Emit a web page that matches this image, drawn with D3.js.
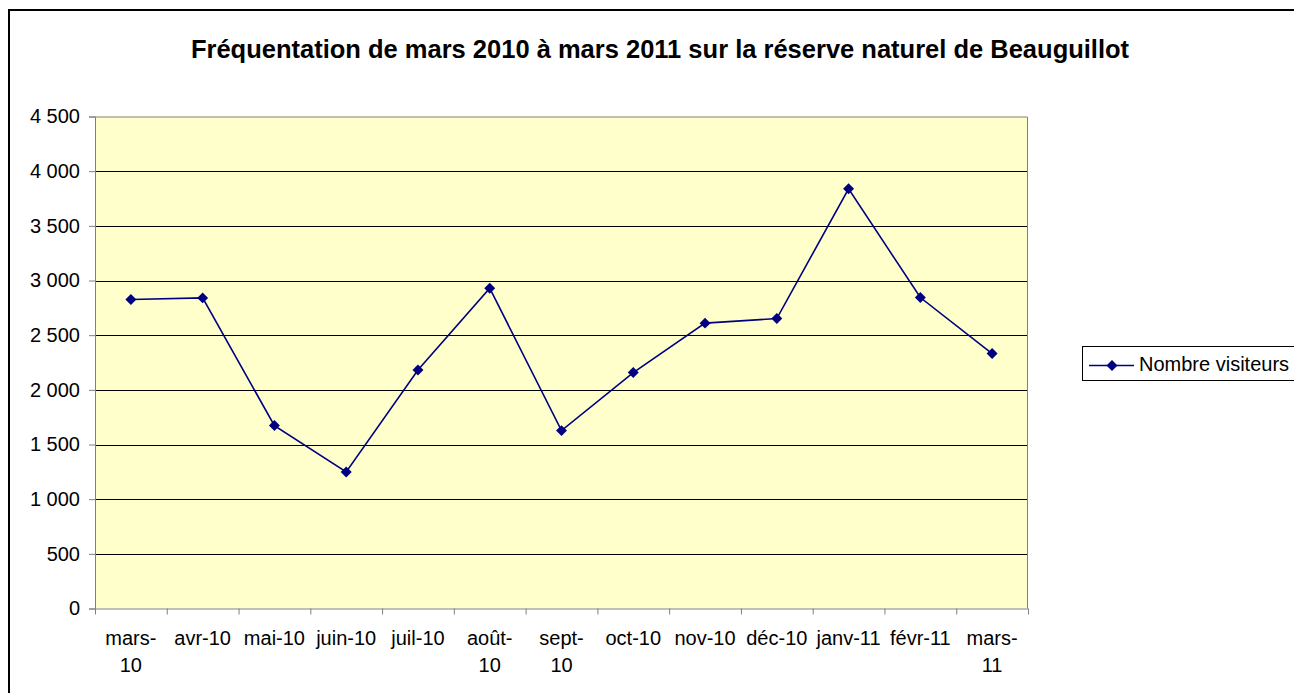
<!DOCTYPE html>
<html lang="fr">
<head>
<meta charset="utf-8">
<script src="https://cdn.jsdelivr.net/npm/d3@7"></script>
<style>
  html, body { margin: 0; padding: 0; background: #fff; }
  svg { display: block; font-family: "Liberation Sans", Arial, sans-serif; }
</style>
</head>
<body>
<svg id="chart" width="1294" height="693"></svg>
<script>
// Monthly visitor counts, March 2010 – March 2011
const categories = ["mars-10", "avr-10", "mai-10", "juin-10", "juil-10", "août-10",
                    "sept-10", "oct-10", "nov-10", "déc-10", "janv-11", "févr-11", "mars-11"];
// Axis labels as displayed (long ones wrap after the hyphen)
const tickLabels = [["mars-", "10"], ["avr-10"], ["mai-10"], ["juin-10"], ["juil-10"], ["août-", "10"],
                    ["sept-", "10"], ["oct-10"], ["nov-10"], ["déc-10"], ["janv-11"], ["févr-11"], ["mars-", "11"]];
const visiteurs = [2826, 2841, 1673, 1249, 2182, 2930, 1627, 2158, 2610, 2652, 3839, 2844, 2332];
const yTicks = [0, 500, 1000, 1500, 2000, 2500, 3000, 3500, 4000, 4500];
const seriesName = "Nombre visiteurs";
const title = "Fréquentation de mars 2010 à mars 2011 sur la réserve naturel de Beauguillot";

const svg = d3.select("#chart");
const plot = { left: 95, top: 116.5, right: 1028, bottom: 608.5 };
const labelSize = 20;

const fr = d3.formatLocale({ decimal: ",", thousands: "\u00a0", grouping: [3], currency: ["", " €"] });
const fmt = fr.format(",d");

const y = d3.scaleLinear().domain([0, 4500]).range([plot.bottom, plot.top]);
const x = d3.scaleBand().domain(categories).range([plot.left, plot.right]).padding(0);
const xEdge = d3.scaleLinear().domain([0, categories.length]).range([plot.left, plot.right]);
const cx = d => x(d) + x.bandwidth() / 2;

// Chart frame
svg.append("rect")
  .attr("x", 9).attr("y", 10).attr("width", 1320).attr("height", 720)
  .attr("fill", "#fff").attr("stroke", "#000").attr("stroke-width", 2);

// Title
svg.append("text")
  .attr("x", 660).attr("y", 58)
  .attr("text-anchor", "middle")
  .attr("font-size", 25.5).attr("font-weight", "bold")
  .attr("fill", "#000")
  .text(title);

// Plot background
svg.append("rect")
  .attr("x", plot.left).attr("y", plot.top)
  .attr("width", plot.right - plot.left).attr("height", plot.bottom - plot.top)
  .attr("fill", "#ffffcc");

// Horizontal gridlines
svg.append("g")
  .selectAll("line")
  .data(yTicks.filter(v => v > 0 && v < 4500))
  .join("line")
  .attr("x1", plot.left).attr("x2", plot.right)
  .attr("y1", d => Math.round(y(d)) + 0.5).attr("y2", d => Math.round(y(d)) + 0.5)
  .attr("stroke", "#000").attr("stroke-width", 1);

// Plot border (top and right)
svg.append("path")
  .attr("d", `M${plot.left},${plot.top + 0.5}H${plot.right - 0.5}V${plot.bottom}`)
  .attr("fill", "none").attr("stroke", "#808080").attr("stroke-width", 1);

// Y axis
const yAxis = svg.append("g")
  .attr("transform", `translate(${plot.left},0)`)
  .call(d3.axisLeft(y).tickValues(yTicks).tickFormat(fmt).tickSize(6).tickPadding(9));
yAxis.select(".domain").attr("stroke", "#808080");
yAxis.selectAll(".tick line").attr("stroke", "#808080");
yAxis.selectAll(".tick text")
  .attr("font-size", labelSize).attr("fill", "#000")
  .attr("font-family", "Liberation Sans, Arial, sans-serif");

// X axis: ticks at category boundaries
const xAxis = svg.append("g")
  .attr("transform", `translate(0,${plot.bottom})`)
  .call(d3.axisBottom(xEdge).tickValues(d3.range(categories.length + 1)).tickFormat("").tickSize(6).tickSizeOuter(0));
xAxis.select(".domain").attr("stroke", "#808080");
xAxis.selectAll(".tick line").attr("stroke", "#808080");

// X tick labels centred on each category
const lbl = svg.append("g")
  .selectAll("text")
  .data(categories)
  .join("text")
  .attr("x", d => cx(d))
  .attr("y", 645)
  .attr("text-anchor", "middle")
  .attr("font-size", labelSize)
  .attr("fill", "#000");
lbl.selectAll("tspan")
  .data((d, i) => tickLabels[i])
  .join("tspan")
  .attr("x", function () { return this.parentNode.getAttribute("x"); })
  .attr("dy", (d, i) => i === 0 ? 0 : 26.5)
  .text(d => d);

// Series line
const line = d3.line().x((d, i) => cx(categories[i])).y(d => y(d));
svg.append("path")
  .datum(visiteurs)
  .attr("d", line)
  .attr("fill", "none")
  .attr("stroke", "#000080")
  .attr("stroke-width", 1.6);

// Diamond markers
const diamond = d3.symbol().type(d3.symbolSquare).size(60);
svg.append("g")
  .selectAll("path")
  .data(visiteurs)
  .join("path")
  .attr("d", diamond)
  .attr("transform", (d, i) => `translate(${cx(categories[i])},${y(d)}) rotate(45)`)
  .attr("fill", "#000080");

// Legend
const lg = svg.append("g");
lg.append("rect")
  .attr("x", 1082.5).attr("y", 346.5).attr("width", 260).attr("height", 34)
  .attr("fill", "#fff").attr("stroke", "#000").attr("stroke-width", 1);
lg.append("line")
  .attr("x1", 1089).attr("x2", 1134).attr("y1", 365.5).attr("y2", 365.5)
  .attr("stroke", "#000080").attr("stroke-width", 1.6);
lg.append("path")
  .attr("d", diamond)
  .attr("transform", "translate(1112,365.5) rotate(45)")
  .attr("fill", "#000080");
lg.append("text")
  .attr("x", 1139).attr("y", 371)
  .attr("font-size", labelSize).attr("fill", "#000")
  .text(seriesName);
</script>
</body>
</html>
